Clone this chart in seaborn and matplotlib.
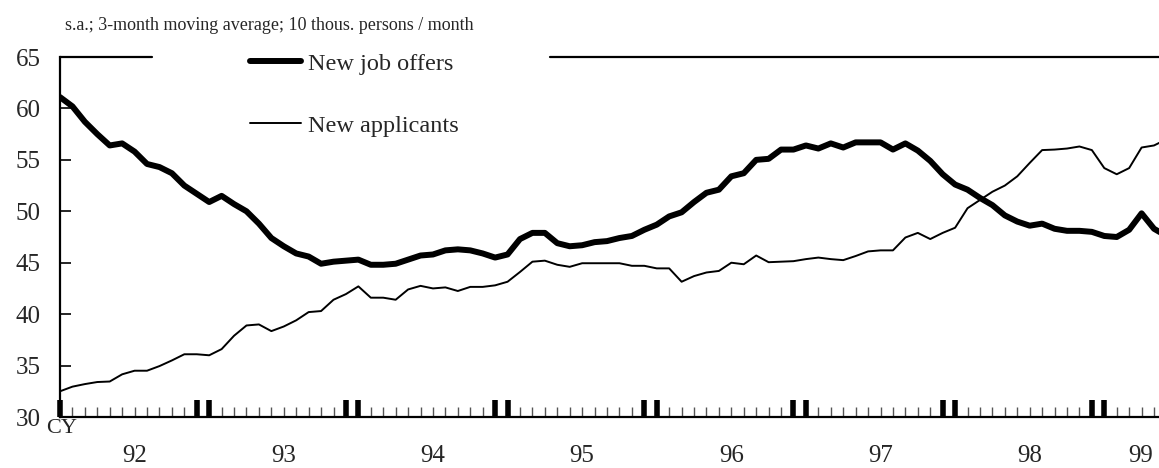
import numpy as np
import pandas as pd
import matplotlib
matplotlib.use("Agg")
import matplotlib.pyplot as plt
import matplotlib.transforms as mtransforms
from matplotlib.ticker import FixedLocator
import seaborn as sns

# ── data: monthly, Jan 1992 onward (index 0 = 1992/1) ─────────────────────
offers = [61.1, 60.2, 58.7, 57.5, 56.4, 56.6, 55.8, 54.6, 54.3, 53.7, 52.5, 51.7,
          50.9, 51.5, 50.7, 50.0, 48.8, 47.4, 46.6, 45.9, 45.6, 44.9, 45.1, 45.2,
          45.3, 44.8, 44.8, 44.9, 45.3, 45.7, 45.8, 46.2, 46.3, 46.2, 45.9, 45.5,
          45.8, 47.3, 47.9, 47.9, 46.9, 46.6, 46.7, 47.0, 47.1, 47.4, 47.6, 48.2,
          48.7, 49.5, 49.9, 50.9, 51.8, 52.1, 53.4, 53.7, 55.0, 55.1, 56.0, 56.0,
          56.4, 56.1, 56.6, 56.2, 56.7, 56.7, 56.7, 56.0, 56.6, 55.9, 54.9, 53.6,
          52.6, 52.1, 51.3, 50.6, 49.6, 49.0, 48.6, 48.8, 48.3, 48.1, 48.1, 48.0,
          47.6, 47.5, 48.2, 49.8, 48.3, 47.6]
applicants = [32.5, 32.95, 33.2, 33.4, 33.45, 34.15, 34.5, 34.5, 34.95, 35.5, 36.1, 36.1,
              36.0, 36.6, 37.9, 38.9, 39.0, 38.35, 38.8, 39.4, 40.2, 40.3, 41.4, 41.95,
              42.7, 41.6, 41.6, 41.4, 42.4, 42.75, 42.5, 42.6, 42.25, 42.65, 42.65, 42.8,
              43.15, 44.1, 45.1, 45.2, 44.8, 44.6, 44.95, 44.95, 44.95, 44.95, 44.7, 44.7,
              44.45, 44.45, 43.15, 43.7, 44.05, 44.2, 45.0, 44.85, 45.7, 45.05, 45.1, 45.15,
              45.35, 45.5, 45.35, 45.25, 45.65, 46.1, 46.2, 46.2, 47.45, 47.9, 47.3, 47.9,
              48.4, 50.3, 51.1, 51.9, 52.5, 53.4, 54.7, 55.95, 56.0, 56.1, 56.3, 55.95,
              54.2, 53.6, 54.2, 56.2, 56.4, 57.0]
year_labels = ["92", "93", "94", "95", "96", "97", "98", "99"]
y_ticks = [30, 35, 40, 45, 50, 55, 60, 65]
subtitle = "s.a.; 3-month moving average; 10 thous. persons / month"

months = np.arange(len(offers))
df = pd.DataFrame({"month": months, "offers": offers, "applicants": applicants})

# ── style ─────────────────────────────────────────────────────────────────
sns.set_theme(style="white")
plt.rcParams["font.family"] = ["Liberation Serif", "DejaVu Serif"]

fig = plt.figure(figsize=(11.59, 4.68), dpi=100)
ax = fig.add_axes([60 / 1159, 1 - 417 / 468, 1 - 60 / 1159, 360 / 468])

sns.lineplot(data=df, x="month", y="offers", color="black", lw=4.3,
             label="New job offers", ax=ax)
sns.lineplot(data=df, x="month", y="applicants", color="black", lw=1.4,
             label="New applicants", ax=ax)

ax.set_xlim(0, 88.4)
ax.set_ylim(30, 65)
ax.set_xlabel("")
ax.set_ylabel("")

# spines: left + bottom, top drawn broken around the legend
for s in ["top", "right"]:
    ax.spines[s].set_visible(False)
for s in ["left", "bottom"]:
    ax.spines[s].set_linewidth(1.6)
    ax.spines[s].set_color("black")
ax.plot([0, 0.0837], [1, 1], transform=ax.transAxes, color="black",
        lw=1.6, clip_on=False)
ax.plot([0.446, 1.0], [1, 1], transform=ax.transAxes, color="black",
        lw=1.6, clip_on=False)

# x ticks: every month (thin), year boundaries Dec/Jan (thick)
n_years = len(year_labels)
boundaries = [0] + [m for k in range(1, n_years) for m in (12 * k - 1, 12 * k)]
ax.xaxis.set_major_locator(FixedLocator(boundaries))
ax.xaxis.set_minor_locator(FixedLocator(months))
ax.tick_params(axis="x", which="major", direction="in", length=12, width=4,
               color="black", labelbottom=False, bottom=True)
ax.tick_params(axis="x", which="minor", direction="in", length=7, width=1,
               color="#555555", bottom=True)

ax.set_yticks(y_ticks)
ax.tick_params(axis="y", direction="in", length=8, width=1.2, color="black",
               labelsize=18, pad=14, left=True)

trans = mtransforms.blended_transform_factory(ax.transData, ax.transAxes)
year_pos = [6 + 12 * k for k in range(n_years - 1)] + [86.9]
for xp, lbl in zip(year_pos, year_labels):
    ax.text(xp, -0.108, lbl, transform=trans, ha="center", va="center",
            fontsize=18)
ax.text(0.16, -0.033, "CY", transform=trans, ha="center", va="center",
        fontsize=16)

ax.legend(loc="upper left", bbox_to_anchor=(0.173, 1.012), frameon=False,
          fontsize=17.5, handlelength=2.1, handletextpad=0.3,
          labelspacing=1.65, borderpad=0, borderaxespad=0)

fig.text(269 / 1159, 1 - 25 / 468, subtitle, ha="center", va="center",
         fontsize=13)

fig.savefig("out.png", dpi=100)
